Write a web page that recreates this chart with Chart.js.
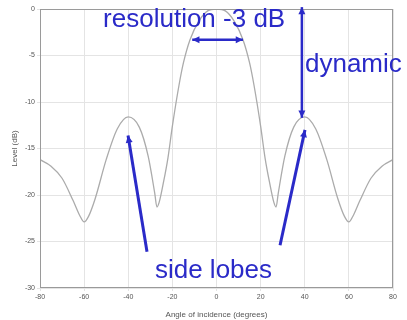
<!DOCTYPE html>
<html>
<head>
<meta charset="utf-8">
<script src="https://cdn.jsdelivr.net/npm/chart.js@4.4.1/dist/chart.umd.min.js"></script>
<style>
  html, body { margin: 0; padding: 0; background: #fff; }
  #wrap { width: 407px; height: 320px; }
</style>
</head>
<body>
<div id="wrap"><canvas id="beam"></canvas></div>
<script>
// angles (degrees) and levels (dB)
var angles = [-80, -75, -70, -65, -62, -60, -58, -55, -50, -45, -40, -35, -31, -28, -27, -26, -24, -22, -20, -17, -15, -12, -8, -4, 0, 4, 8, 12, 15, 17, 20, 22, 24, 26, 27, 28, 31, 35, 40, 45, 50, 55, 58, 60, 62, 65, 70, 75, 80];
var levels = [-16.2, -16.9, -18.2, -20.6, -22.2, -22.9, -22.3, -20.4, -16.2, -12.9, -11.6, -12.7, -15.8, -19.8, -21.3, -20.8, -18.6, -16.0, -12.6, -8.2, -5.8, -3.3, -1.3, -0.2, 0, -0.2, -1.3, -3.3, -5.8, -8.2, -12.6, -16.0, -18.6, -20.8, -21.3, -19.8, -15.8, -12.7, -11.6, -12.9, -16.2, -20.4, -22.3, -22.9, -22.2, -20.6, -18.2, -16.9, -16.2];
var xTicks = [-80, -60, -40, -20, 0, 20, 40, 60, 80];
var yTicks = [0, -5, -10, -15, -20, -25, -30];

// annotation labels
var textResolution = 'resolution -3 dB';
var textDynamic = 'dynamic';
var textSide = 'side lobes';

var blue = 'rgb(42, 42, 200)';

function arrowHead(ctx, x0, y0, x1, y1, size) {
    var a = Math.atan2(y1 - y0, x1 - x0);
    ctx.beginPath();
    ctx.moveTo(x1, y1);
    ctx.lineTo(x1 - size * Math.cos(a - 0.45), y1 - size * Math.sin(a - 0.45));
    ctx.lineTo(x1 - size * Math.cos(a + 0.45), y1 - size * Math.sin(a + 0.45));
    ctx.closePath();
    ctx.fill();
}

function arrow(ctx, x0, y0, x1, y1, both) {
    ctx.beginPath();
    ctx.moveTo(x0, y0);
    ctx.lineTo(x1, y1);
    ctx.stroke();
    arrowHead(ctx, x0, y0, x1, y1, 8);
    if (both) arrowHead(ctx, x1, y1, x0, y0, 8);
}

var notes = {
    id: 'notes',
    afterDatasetsDraw: function (chart) {
        var ctx = chart.ctx, xs = chart.scales.x, ys = chart.scales.y, a = chart.chartArea;
        ctx.save();
        // frame
        ctx.strokeStyle = '#9a9a9a';
        ctx.lineWidth = 1;
        ctx.strokeRect(a.left + 0.5, a.top + 0.5, a.right - a.left - 1, a.bottom - a.top - 1);

        ctx.strokeStyle = blue;
        ctx.fillStyle = blue;
        ctx.lineWidth = 2.5;
        // resolution arrow at -3 dB
        arrow(ctx, xs.getPixelForValue(-11), ys.getPixelForValue(-3.3), xs.getPixelForValue(12), ys.getPixelForValue(-3.3), true);
        // dynamic arrow
        arrow(ctx, xs.getPixelForValue(38.7), ys.getPixelForValue(0.2), xs.getPixelForValue(38.7), ys.getPixelForValue(-11.7), true);
        // side lobe arrows
        ctx.lineWidth = 3;
        arrow(ctx, xs.getPixelForValue(-31.5), ys.getPixelForValue(-26.1), xs.getPixelForValue(-40.1), ys.getPixelForValue(-13.6), false);
        arrow(ctx, xs.getPixelForValue(28.8), ys.getPixelForValue(-25.4), xs.getPixelForValue(40.1), ys.getPixelForValue(-13.0), false);

        ctx.font = '26px "Liberation Sans", Arial, sans-serif';
        ctx.textBaseline = 'alphabetic';
        ctx.textAlign = 'left';
        ctx.fillText(textResolution, xs.getPixelForValue(-51.4), ys.getPixelForValue(-1.9));
        ctx.fillText(textDynamic, xs.getPixelForValue(40.1), ys.getPixelForValue(-6.8));
        ctx.fillText(textSide, xs.getPixelForValue(-27.9), ys.getPixelForValue(-28.9));
        ctx.restore();
    }
};

var points = angles.map(function (a, i) { return { x: a, y: levels[i] }; });

new Chart(document.getElementById('beam').getContext('2d'), {
    type: 'line',
    data: {
        datasets: [{
            data: points,
            borderColor: '#ababab',
            borderWidth: 1.3,
            pointRadius: 0,
            fill: false,
            tension: 0.4,
            cubicInterpolationMode: 'monotone'
        }]
    },
    options: {
        responsive: true,
        maintainAspectRatio: false,
        animation: false,
        layout: { padding: { left: 0, right: 14, top: 9, bottom: 0 } },
        plugins: { legend: { display: false }, tooltip: { enabled: false } },
        scales: {
            x: {
                type: 'linear',
                min: -80, max: 80,
                afterBuildTicks: function (s) { s.ticks = xTicks.map(function (v) { return { value: v }; }); },
                afterFit: function (s) { s.height = 32; },
                grid: { color: '#e4e4e4', tickLength: 3 },
                border: { display: false },
                ticks: { color: '#555', font: { size: 7, family: 'Liberation Sans' }, padding: 2, maxRotation: 0 },
                title: { display: true, text: 'Angle of incidence (degrees)', color: '#555', font: { size: 8, family: 'Liberation Sans' }, padding: { top: 0, bottom: 0 } }
            },
            y: {
                type: 'linear',
                min: -30, max: 0,
                afterBuildTicks: function (s) { s.ticks = yTicks.map(function (v) { return { value: v }; }); },
                afterFit: function (s) { s.width = 40; },
                grid: { color: '#e4e4e4', tickLength: 3 },
                border: { display: false },
                ticks: { color: '#555', font: { size: 7, family: 'Liberation Sans' }, padding: 2 },
                title: { display: true, text: 'Level (dB)', color: '#555', font: { size: 8, family: 'Liberation Sans' }, padding: { top: 10, bottom: 2 } }
            }
        }
    },
    plugins: [notes]
});
</script>
</body>
</html>
